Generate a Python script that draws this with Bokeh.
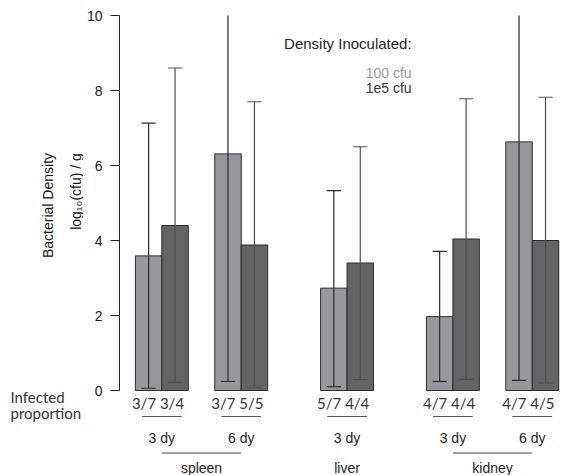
import math
from bokeh.plotting import figure
from bokeh.layouts import row
from bokeh.models import ColumnDataSource, FixedTicker, LinearAxis, Range1d
from bokeh.core.properties import value
from bokeh.embed import file_html
from bokeh.resources import INLINE

# ---------------- data ----------------
organs = ["spleen", "spleen", "liver", "kidney", "kidney"]
days = ["3 dy", "6 dy", "3 dy", "3 dy", "6 dy"]
doses = ["100 cfu", "1e5 cfu"]
# per group: [100 cfu, 1e5 cfu]
proportions = [["3/7", "3/4"], ["3/7", "5/5"], ["5/7", "4/4"], ["4/7", "4/4"], ["4/7", "4/5"]]
means = [[3.59, 4.40], [6.31, 3.88], [2.73, 3.40], [1.97, 4.04], [6.63, 4.00]]
lows = [[0.06, 0.22], [0.24, 0.08], [0.10, 0.29], [0.24, 0.30], [0.27, 0.20]]
highs = [[7.13, 8.60], [12.0, 7.70], [5.33, 6.50], [3.71, 7.78], [12.0, 7.82]]
y_ticks = [0, 2, 4, 6, 8, 10]
y_title = ["Bacterial Density", "log\u2081\u2080(cfu) / g"]
row_title = ["Infected", "proportion"]

# ---------------- styles ----------------
fills = ["#98989c", "#646464"]
err_colors = ["#2a2a2a", "#505050"]
legend_colors = ["#999999", "#333333"]
sans = "Liberation Sans"
prop_font = "Lato"

# ---------------- layout computation ----------------
group_x = []
x = 0.0
for i in range(len(organs)):
    group_x.append(x)
    if i + 1 < len(organs):
        x += 3 if organs[i + 1] == organs[i] else 4

bx, btop, bfill, elo, ehi, ecol = [], [], [], [], [], []
for g, gx in enumerate(group_x):
    for d in range(len(doses)):
        bx.append(gx + d)
        btop.append(means[g][d])
        bfill.append(fills[d])
        elo.append(lows[g][d])
        ehi.append(highs[g][d])
        ecol.append(err_colors[d])

src = ColumnDataSource(dict(x=bx, top=btop, fill=bfill, lo=elo, hi=ehi, col=ecol,
                            cl=[v - 0.27 for v in bx], cr=[v + 0.27 for v in bx]))

W, H = 564, 475
side_w = 83              # left side panel with titles
axis_b = 36              # main figure left border (ticks + tick labels)
top_b = 15
px_per_unit_y = 37.5
px_per_unit_x = 26.46
main_w = W - side_w
frame_w = main_w - axis_b
frame_h = H - top_b
y_top = 10.0
y_bot = y_top - frame_h / px_per_unit_y
x_start = -1.1
x_end = x_start + frame_w / px_per_unit_x

p = figure(width=main_w, height=H, frame_width=frame_w, frame_height=frame_h,
           x_range=Range1d(x_start, x_end), y_range=Range1d(y_bot, y_top),
           output_backend="svg", toolbar_location=None,
           x_axis_location=None, y_axis_location=None,
           min_border_left=axis_b, min_border_right=0, min_border_top=top_b, min_border_bottom=0)
p.grid.visible = False
p.outline_line_color = None
p.background_fill_color = "white"
p.border_fill_color = "white"

yaxis = LinearAxis(ticker=FixedTicker(ticks=y_ticks), bounds=(0, 10))
yaxis.axis_line_color = "#222222"
yaxis.major_tick_line_color = "#222222"
yaxis.major_tick_out = 9
yaxis.major_tick_in = 0
yaxis.minor_tick_line_color = None
yaxis.major_label_standoff = 8
yaxis.major_label_text_font = sans
yaxis.major_label_text_font_size = "14px"
yaxis.major_label_text_color = "#222222"
p.add_layout(yaxis, "left")

# bars
p.vbar(x="x", top="top", bottom=0, width=1.0, source=src, fill_color="fill",
       line_color="#2b2b2b", line_width=1)
# error bars
p.segment(x0="x", y0="lo", x1="x", y1="hi", source=src, line_color="col", line_width=1.2)
p.segment(x0="cl", y0="lo", x1="cr", y1="lo", source=src, line_color="col", line_width=1.2)
p.segment(x0="cl", y0="hi", x1="cr", y1="hi", source=src, line_color="col", line_width=1.2)


def ydata(offset_px):
    return -offset_px / px_per_unit_y


centers = [gx + 0.5 for gx in group_x]

# proportion labels (one string per group, centred under the pair)
p.text(x=centers, y=ydata(12.5), text=["   ".join(pr) for pr in proportions],
       text_font=value(prop_font), text_font_size="15px", text_align="center",
       text_baseline="middle", text_color="#333333")

# group underlines and day labels
p.segment(x0=[c - 0.75 for c in centers], y0=ydata(26), x1=[c + 0.75 for c in centers],
          y1=ydata(26), line_color="#555555", line_width=1)
p.text(x=centers, y=ydata(47), text=days, text_font=value(sans), text_font_size="14px",
       text_align="center", text_baseline="middle", text_color="#222222")

# organ spans and labels
org_names, org_c, span_x0, span_x1 = [], [], [], []
for o in dict.fromkeys(organs):
    cs = [centers[i] for i in range(len(organs)) if organs[i] == o]
    org_names.append(o)
    org_c.append(sum(cs) / len(cs))
    if len(cs) > 1:
        span_x0.append(min(cs))
        span_x1.append(max(cs))
p.segment(x0=span_x0, y0=ydata(62.5), x1=span_x1, y1=ydata(62.5), line_color="#444444", line_width=1)
p.text(x=org_c, y=ydata(77), text=org_names, text_font=value(sans), text_font_size="14px",
       text_align="center", text_baseline="middle", text_color="#222222")

# legend texts
legend_x = 9.94
p.text(x=[legend_x], y=[9.25], text=["Density Inoculated:"], text_font=value(sans),
       text_font_size="15px", text_align="right", text_baseline="middle", text_color="#222222")
p.text(x=[legend_x, legend_x], y=[8.48, 8.06], text=doses, text_font=value(sans),
       text_font_size="14px", text_align="right", text_baseline="middle",
       text_color=legend_colors)

# ---------------- left side panel (titles) ----------------
# shares the main y scale: same height, same top border and y range
s = figure(width=side_w, height=H, frame_width=side_w, frame_height=frame_h,
           x_range=Range1d(0, side_w), y_range=p.y_range,
           output_backend="svg", toolbar_location=None,
           x_axis_location=None, y_axis_location=None,
           min_border_left=0, min_border_right=0, min_border_top=top_b, min_border_bottom=0)
s.grid.visible = False
s.outline_line_color = None
s.background_fill_color = "white"
s.border_fill_color = "white"

s.text(x=[47, 75.5], y=[(390 - 205) / px_per_unit_y, (390 - 191) / px_per_unit_y],
       text=y_title, angle=math.pi / 2, text_font=value(sans), text_font_size="14px",
       text_align="center", text_baseline="middle", text_color="#111111")
s.text(x=[10, 10], y=[ydata(6), ydata(22)], text=row_title, text_font=value(prop_font),
       text_font_size="15px", text_align="left", text_baseline="middle", text_color="#333333")

layout = row(s, p, spacing=0)
open("out.html", "w").write(file_html(layout, INLINE))
